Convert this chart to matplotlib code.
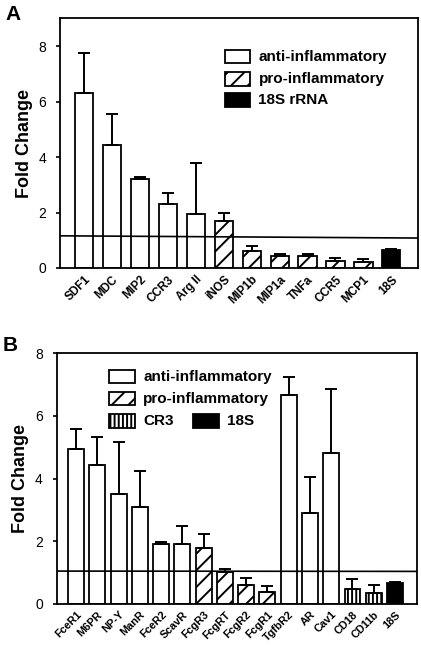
import matplotlib
matplotlib.use("Agg")
import matplotlib.pyplot as plt
from matplotlib.patches import Rectangle

plt.rcParams['font.family'] = ['Liberation Sans', 'DejaVu Sans']
plt.rcParams['hatch.linewidth'] = 1.4

# panel A data
genes_a = ['SDF1', 'MDC', 'MIP2', 'CCR3', 'Arg II', 'iNOS', 'MIP1b', 'MIP1a',
           'TNFa', 'CCR5', 'MCP1', '18S']
fold_a = [6.31, 4.43, 3.20, 2.30, 1.94, 1.71, 0.63, 0.42, 0.42, 0.24, 0.22, 0.66]
err_a = [1.44, 1.11, 0.08, 0.39, 1.86, 0.27, 0.16, 0.07, 0.07, 0.12, 0.12, 0.02]
group_a = ['anti'] * 5 + ['pro'] * 6 + ['18s']
line_a = [1.16, 1.08]

# panel B data
genes_b = ['FceR1', 'M6PR', 'NP-Y', 'ManR', 'FceR2', 'ScavR', 'FcgR3', 'FcgRT',
           'FcgR2', 'FcgR1', 'TgfbR2', 'AR', 'Cav1', 'CD18', 'CD11b', '18S']
fold_b = [4.94, 4.43, 3.52, 3.10, 1.90, 1.90, 1.80, 1.01, 0.59, 0.37, 6.67, 2.89,
          4.81, 0.47, 0.36, 0.66]
err_b = [0.63, 0.89, 1.66, 1.14, 0.09, 0.60, 0.44, 0.12, 0.25, 0.19, 0.56, 1.16,
         2.04, 0.34, 0.23, 0.03]
group_b = ['anti'] * 6 + ['pro'] * 4 + ['anti'] * 3 + ['cr3'] * 2 + ['18s']
line_b = [1.05, 1.04]

styles = {'anti': ('white', ''), 'pro': ('white', '//'),
          'cr3': ('white', '||||'), '18s': ('black', '')}


def panel(ax, genes, fold, err, group, line, width, xlim, ymax, lab_size):
    x = list(range(len(genes)))
    for i in x:
        fc, h = styles[group[i]]
        ax.bar(i, fold[i], width=width, color=fc, edgecolor='black',
               hatch=h, linewidth=1.3, zorder=2)
        ax.errorbar(i, fold[i], yerr=[[0], [err[i]]], fmt='none', ecolor='black',
                    elinewidth=1.4, capsize=4, capthick=1.4, zorder=3)
    ax.plot(xlim, line, color='black', linewidth=1.2, zorder=4)
    ax.set_xlim(xlim)
    ax.set_ylim(0, ymax)
    ax.set_yticks([0, 2, 4, 6, 8])
    ax.set_xticks(x)
    ax.set_xticklabels(genes, rotation=45, ha='right', rotation_mode='anchor',
                       fontweight='bold', fontsize=lab_size)
    ax.tick_params(axis='x', length=0, pad=4)
    ax.tick_params(axis='y', length=3, width=1.2, labelsize=10, pad=7)
    for s in ax.spines.values():
        s.set_linewidth(1.3)
    ax.set_ylabel('Fold Change', fontweight='bold', fontsize=13, labelpad=4)


def legend_item(ax, x, y, label, key):
    fc, h = styles[key]
    ax.add_patch(Rectangle((x, y), 0.072, 0.055, transform=ax.transAxes,
                           facecolor=fc, edgecolor='black', hatch=h,
                           linewidth=1.3, zorder=5))
    ax.text(x + 0.095, y + 0.027, label, transform=ax.transAxes, va='center',
            fontweight='bold', fontsize=11)


fig = plt.figure(figsize=(4.21, 6.45), dpi=100)
ax1 = fig.add_axes([0.1425, 0.5845, 0.8495, 0.3871])
ax2 = fig.add_axes([0.1347, 0.0636, 0.8551, 0.3886])

panel(ax1, genes_a, fold_a, err_a, group_a, line_a, 0.65, [-0.86, 11.94], 9, 8.5)
panel(ax2, genes_b, fold_b, err_b, group_b, line_b, 0.75, [-0.91, 16.02], 8, 7.8)

legend_item(ax1, 0.46, 0.82, 'anti-inflammatory', 'anti')
legend_item(ax1, 0.46, 0.73, 'pro-inflammatory', 'pro')
legend_item(ax1, 0.46, 0.645, '18S rRNA', '18s')

legend_item(ax2, 0.145, 0.88, 'anti-inflammatory', 'anti')
legend_item(ax2, 0.145, 0.792, 'pro-inflammatory', 'pro')
legend_item(ax2, 0.145, 0.704, 'CR3', 'cr3')
legend_item(ax2, 0.378, 0.704, '18S', '18s')

fig.text(0.012, 0.977, 'A', fontweight='bold', fontsize=15, va='center')
fig.text(0.007, 0.465, 'B', fontweight='bold', fontsize=15, va='center')

fig.savefig('out.png', dpi=100)
